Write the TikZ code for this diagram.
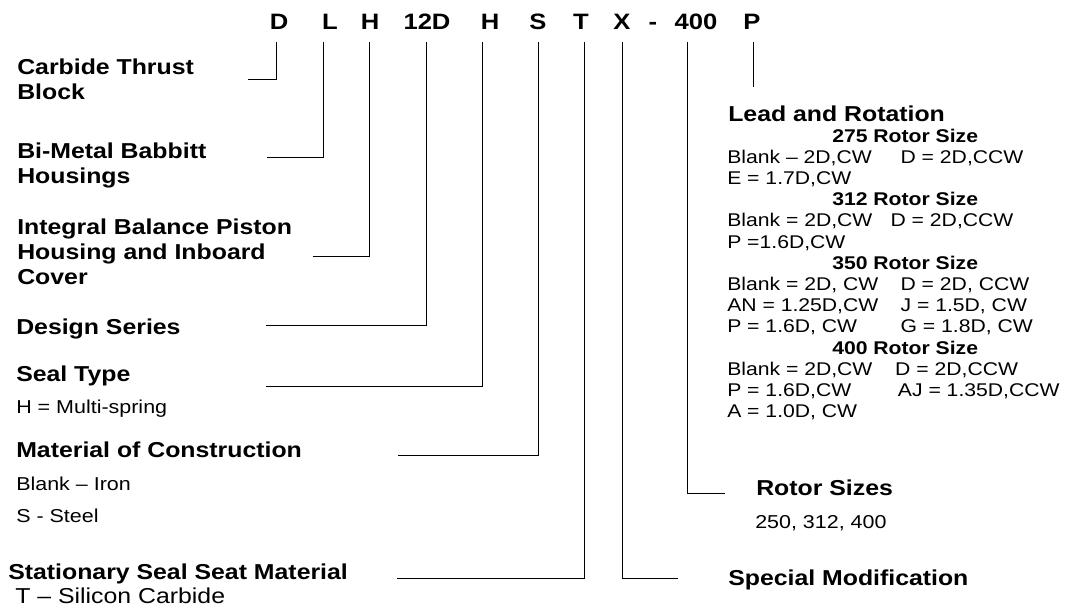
\documentclass[tikz,border=0pt]{standalone}
\usepackage{fontspec}
\setmainfont{Liberation Sans}[FakeStretch=1.15]
\usetikzlibrary{positioning}

\newcommand\sizehead[1]{\multicolumn{2}{@{\hspace{78.75pt}}l}{\bfseries #1 Rotor Size}}

\begin{document}
\begin{tikzpicture}[x=0.75pt,y=-0.75pt]
\tikzset{
  codeletter/.style={font=\fontsize{16.7}{20}\selectfont\bfseries,anchor=base,inner xsep=0pt,inner ysep=9.75pt,text height=12pt,text depth=0pt},
  heading/.style={font=\fontsize{16.2}{18.5}\selectfont\bfseries,anchor=base west,inner sep=0pt,align=left},
  note/.style={font=\fontsize{14}{24}\selectfont,anchor=base west,inner sep=0pt,align=left},
  rotortable/.style={font=\fontsize{13.8}{15.9}\selectfont,anchor=base west,inner sep=0pt},
  leader/.style={draw=black,line width=0.75pt}
}
\useasboundingbox (0,0) rectangle (1065,608);
% model code
\node[codeletter] (c_D) at (279,29) {D};
\node[codeletter] (c_L) at (330,29) {L};
\node[codeletter] (c_H) at (370,29) {H};
\node[codeletter] (c_12D) at (427,29) {12D};
\node[codeletter] (c_H2) at (490,29) {H};
\node[codeletter] (c_S) at (538,29) {S};
\node[codeletter] (c_T) at (581,29) {T};
\node[codeletter] (c_X) at (622,29) {X};
\node[codeletter] (c_dash) at (653,29) {-};
\node[codeletter] (c_400) at (696,29) {400};
\node[codeletter] (c_P) at (752,29) {P};
% left side (multi-line nodes sit on their last baseline)
\node[heading] (h_D) at (17,99) {Carbide Thrust\\Block};
\node[heading] (h_L) at (17,183) {Bi-Metal Babbitt\\Housings};
\node[heading] (h_H) at (17,284) {Integral Balance Piston\\Housing and Inboard\\Cover};
\node[heading] (h_12D) at (16,334) {Design Series};
\node[heading] (h_H2) at (16,381) {Seal Type};
\node[note] (n_H2) at (16,413) {H = Multi-spring};
\node[heading] (h_S) at (16,457) {Material of Construction};
\node[note] (n_S) at (16,522) {Blank – Iron\\S - Steel};
\node[heading] (h_T) at (8,579) {Stationary Seal Seat Material};
\node[note,font=\fontsize{16.2}{18.5}\selectfont] (n_T) at (15,603) {T – Silicon Carbide};
% right side
\node[heading] (h_P) at (728,121) {Lead and Rotation};
\node[rotortable] (t_P) at (727,142) {%
\begin{tabular}[t]{@{}p{130pt}@{}l@{}}
\sizehead{275}\\
Blank – 2D,CW & D = 2D,CCW\\
E = 1.7D,CW & \\
\sizehead{312}\\
Blank = 2D,CW & \hspace*{-7.5pt}D = 2D,CCW\\
P =1.6D,CW & \\
\sizehead{350}\\
Blank = 2D, CW & D = 2D, CCW\\
AN = 1.25D,CW & J = 1.5D, CW\\
P = 1.6D, CW & G = 1.8D, CW\\
\sizehead{400}\\
Blank = 2D,CW & \hspace*{-4pt}D = 2D,CCW\\
P = 1.6D,CW & \hspace*{-2pt}AJ = 1.35D,CCW\\
A = 1.0D, CW & \\
\end{tabular}};
\node[heading] (h_400) at (756,495) {Rotor Sizes};
\node[note] (n_400) at (755,528) {250, 312, 400};
\node[heading] (h_X) at (728,585) {Special Modification};
% leader ends
\coordinate (e_D) at (248,79);
\coordinate (e_L) at (267,157);
\coordinate (e_H) at (313,256);
\coordinate (e_12D) at (266,325);
\coordinate (e_H2) at (266,386);
\coordinate (e_S) at (398,455);
\coordinate (e_T) at (397,578);
\coordinate (e_X) at (678,578);
\coordinate (e_400) at (725,493);
\coordinate (e_P) at (753,87);
% leaders
\draw[leader] ([xshift=-2.25pt]c_D.south) |- (e_D);
\draw[leader] ([xshift=-5.25pt]c_L.south) |- (e_L);
\draw[leader] ([xshift=-0.75pt]c_H.south) |- (e_H);
\draw[leader] ([xshift=-0.75pt]c_12D.south) |- (e_12D);
\draw[leader] ([xshift=-6pt]c_H2.south) |- (e_H2);
\draw[leader] (c_S.south) |- (e_S);
\draw[leader] ([xshift=2.25pt]c_T.south) |- (e_T);
\draw[leader] (c_X.south) |- (e_X);
\draw[leader] ([xshift=-6.75pt]c_400.south) |- (e_400);
\draw[leader] ([xshift=0.75pt]c_P.south) -- (e_P);
\end{tikzpicture}
\end{document}
